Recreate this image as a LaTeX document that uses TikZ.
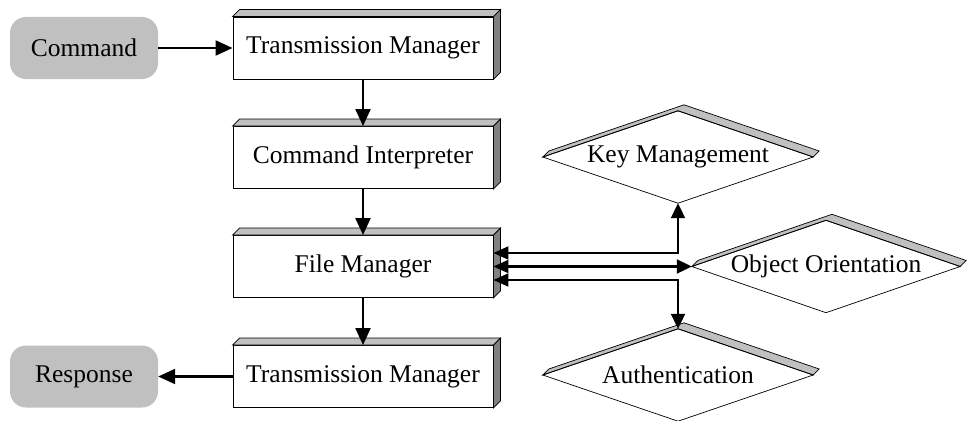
\documentclass[tikz,border=0pt]{standalone}
\usepackage{fontspec}
\setmainfont{Liberation Serif}
\usetikzlibrary{arrows.meta,calc}
\definecolor{bevtop}{HTML}{C0C0C0}
\definecolor{bevside}{HTML}{808080}
\definecolor{termfill}{HTML}{C0C0C0}
\begin{document}
\begin{tikzpicture}[x=1pt,y=-1pt,
  every node/.style={font=\fontsize{25.5}{30}\selectfont},
  box/.style={draw, line width=0.9pt, minimum width=260pt, minimum height=62pt, inner sep=0pt},
  term/.style={fill=termfill, rounded corners=16pt, minimum width=148pt, minimum height=62pt, inner sep=0pt},
  dia/.style={minimum width=270pt, minimum height=92pt, inner sep=0pt},
  flow/.style={line width=2.1pt, -{Triangle[length=17pt,width=15pt]}},
  link/.style={line width=2.1pt, {Triangle[length=15pt,width=13pt]}-{Triangle[length=15pt,width=14pt]}},
  bev/.style={draw, line width=0.7pt}
]
\useasboundingbox (0,0) rectangle (968,420);
\node[term] (cmd) at (84,48) {Command};
\node[box] (tm1) at (363,48) {Transmission Manager};
\node[box] (ci) at (363,157.5) {Command Interpreter};
\node[box] (fm) at (363,266.5) {File Manager};
\node[box] (tm2) at (363,376.5) {Transmission Manager};
\node[term] (resp) at (84,376.5) {Response};
\node[dia] (km) at (678,157) {Key Management};
\node[dia, minimum width=268pt] (oo) at (826,266.5) {Object Orientation};
\node[dia] (au) at (678,375) {Authentication};
\foreach \n in {tm1,ci,fm,tm2} {
  \filldraw[bev, fill=bevtop] (\n.north west) -- ($(\n.north west)+(7,-7)$) -- ($(\n.north east)+(7,-7)$) -- (\n.north east) -- cycle;
  \filldraw[bev, fill=bevside] (\n.north east) -- ($(\n.north east)+(7,-7)$) -- ($(\n.south east)+(7,-7)$) -- (\n.south east) -- cycle;
}
\foreach \n in {km,oo,au} {
  \filldraw[bev, fill=bevtop] (\n.west) -- (\n.north) -- (\n.east) -- ($(\n.east)+(6,-6)$) -- ($(\n.north)+(6,-6)$) -- ($(\n.west)+(6,-6)$) -- cycle;
  \draw[bev] (\n.west) -- (\n.north) -- (\n.east) -- (\n.south) -- cycle;
}
\draw[flow] (cmd) -- (tm1);
\draw[flow] (tm1) -- (ci);
\draw[flow] (ci) -- (fm);
\draw[flow] (fm) -- (tm2);
\draw[flow] (tm2) -- (resp);
\draw[link] ($(fm.east)+(0,-13.5)$) -| (km.south);
\draw[link] (fm.east) -- (oo.west);
\draw[link] ($(fm.east)+(0,13.5)$) -| (au.north);
\end{tikzpicture}
\end{document}
